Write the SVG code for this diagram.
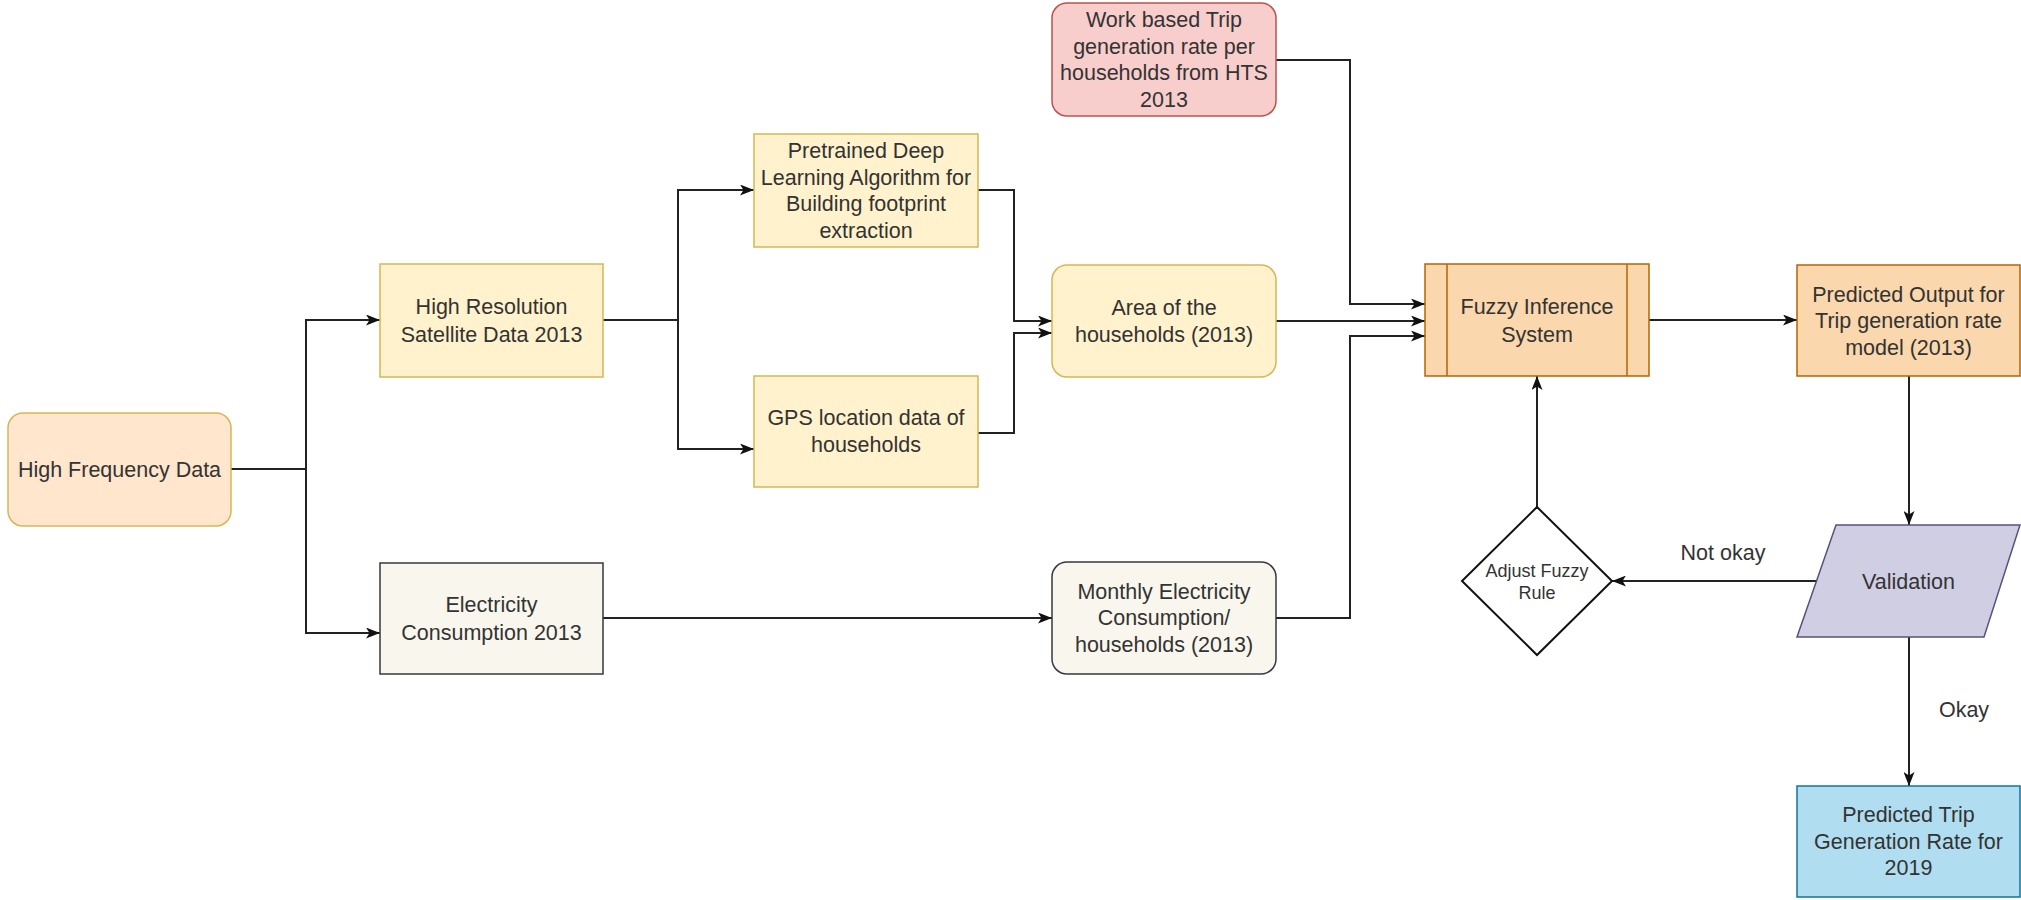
<svg xmlns="http://www.w3.org/2000/svg" width="2021" height="900" viewBox="0 0 2021 900">
<style>
  text { font-family: "Liberation Sans", Arial, sans-serif; font-size: 21.5px; fill: #333; text-anchor: middle; }
  .small { font-size: 18px; }
  .conn { fill: none; stroke: #222; stroke-width: 2; }
  .arr { marker-end: url(#ah); }
  .yel { fill: #fff2cc; stroke: #d6b656; stroke-width: 1.5; }
  .gry { fill: #f9f7ed; stroke: #36393d; stroke-width: 1.5; }
  .org { fill: #fad7ac; stroke: #b46504; stroke-width: 1.5; }
</style>
<defs>
  <marker id="ah" viewBox="0 0 14 11" refX="14" refY="5.5" markerWidth="14" markerHeight="11" orient="auto" markerUnits="userSpaceOnUse">
    <path d="M0,0 L14,5.5 L0,11 L3.5,5.5 Z" fill="#111"/>
  </marker>
</defs>
<rect width="2021" height="900" fill="#ffffff"/>

<g id="connectors">
  <path class="conn arr" d="M231,469 H306 V320 H380"/>
  <path class="conn arr" d="M306,469 V633 H380"/>
  <path class="conn arr" d="M603,320 H678 V190 H754"/>
  <path class="conn arr" d="M678,320 V449 H754"/>
  <path class="conn arr" d="M978,190 H1014 V321 H1052"/>
  <path class="conn arr" d="M978,433 H1014 V333 H1052"/>
  <path class="conn arr" d="M1276,321 H1425"/>
  <path class="conn arr" d="M1276,60 H1350 V304 H1425"/>
  <path class="conn arr" d="M1276,618 H1350 V336 H1425"/>
  <path class="conn arr" d="M603,618 H1052"/>
  <path class="conn arr" d="M1649,320 H1797"/>
  <path class="conn arr" d="M1909,376 V525"/>
  <path class="conn arr" d="M1816,581 H1612"/>
  <path class="conn arr" d="M1537,507 V376"/>
  <path class="conn arr" d="M1909,637 V786"/>
  <text x="1723" y="560">Not okay</text>
  <text x="1964" y="717">Okay</text>
</g>

<g id="high-frequency-data">
  <rect x="8" y="413" width="223" height="113" rx="15" fill="#ffe6cc" stroke="#d6b656" stroke-width="1.5"/>
  <text x="119.5" y="477">High Frequency Data</text>
</g>

<g id="high-resolution">
  <rect class="yel" x="380" y="264" width="223" height="113"/>
  <text x="491.5" y="313.5">High Resolution</text>
  <text x="491.5" y="341.5">Satellite Data 2013</text>
</g>

<g id="electricity">
  <rect class="gry" x="380" y="563" width="223" height="111"/>
  <text x="491.5" y="612">Electricity</text>
  <text x="491.5" y="640">Consumption 2013</text>
</g>

<g id="pretrained">
  <rect class="yel" x="754" y="134" width="224" height="113"/>
  <text x="866" y="158">Pretrained Deep</text>
  <text x="866" y="184.5">Learning Algorithm for</text>
  <text x="866" y="211">Building footprint</text>
  <text x="866" y="237.5">extraction</text>
</g>

<g id="gps">
  <rect class="yel" x="754" y="376" width="224" height="111"/>
  <text x="866" y="425">GPS location data of</text>
  <text x="866" y="452">households</text>
</g>

<g id="work-based">
  <rect x="1052" y="3" width="224" height="113" rx="15" fill="#f8cecc" stroke="#b85450" stroke-width="1.5"/>
  <text x="1164" y="27">Work based Trip</text>
  <text x="1164" y="53.5">generation rate per</text>
  <text x="1164" y="80">households from HTS</text>
  <text x="1164" y="106.5">2013</text>
</g>

<g id="area">
  <rect class="yel" x="1052" y="265" width="224" height="112" rx="15"/>
  <text x="1164" y="314.5">Area of the</text>
  <text x="1164" y="341.5">households (2013)</text>
</g>

<g id="monthly-electricity">
  <rect class="gry" x="1052" y="562" width="224" height="112" rx="15"/>
  <text x="1164" y="598.5">Monthly Electricity</text>
  <text x="1164" y="625">Consumption/</text>
  <text x="1164" y="651.5">households (2013)</text>
</g>

<g id="fuzzy">
  <rect class="org" x="1425" y="264" width="224" height="112"/>
  <line x1="1447" y1="264" x2="1447" y2="376" stroke="#b46504" stroke-width="1.5"/>
  <line x1="1627" y1="264" x2="1627" y2="376" stroke="#b46504" stroke-width="1.5"/>
  <text x="1537" y="313.5">Fuzzy Inference</text>
  <text x="1537" y="341.5">System</text>
</g>

<g id="predicted-output">
  <rect class="org" x="1797" y="265" width="223" height="111"/>
  <text x="1908.5" y="301.5">Predicted Output for</text>
  <text x="1908.5" y="328">Trip generation rate</text>
  <text x="1908.5" y="354.5">model (2013)</text>
</g>

<g id="validation">
  <polygon points="1836,525 2020,525 1984,637 1797,637" fill="#d0cee2" stroke="#56517e" stroke-width="1.5"/>
  <text x="1908.5" y="588.5">Validation</text>
</g>

<g id="adjust-fuzzy-rule">
  <polygon points="1537,507 1612,581 1537,655 1462,581" fill="#ffffff" stroke="#111" stroke-width="2"/>
  <text class="small" x="1537" y="577">Adjust Fuzzy</text>
  <text class="small" x="1537" y="599">Rule</text>
</g>

<g id="predicted-trip">
  <rect x="1797" y="786" width="223" height="111" fill="#b1ddf0" stroke="#10739e" stroke-width="1.5"/>
  <text x="1908.5" y="822">Predicted Trip</text>
  <text x="1908.5" y="848.5">Generation Rate for</text>
  <text x="1908.5" y="875">2019</text>
</g>
</svg>
